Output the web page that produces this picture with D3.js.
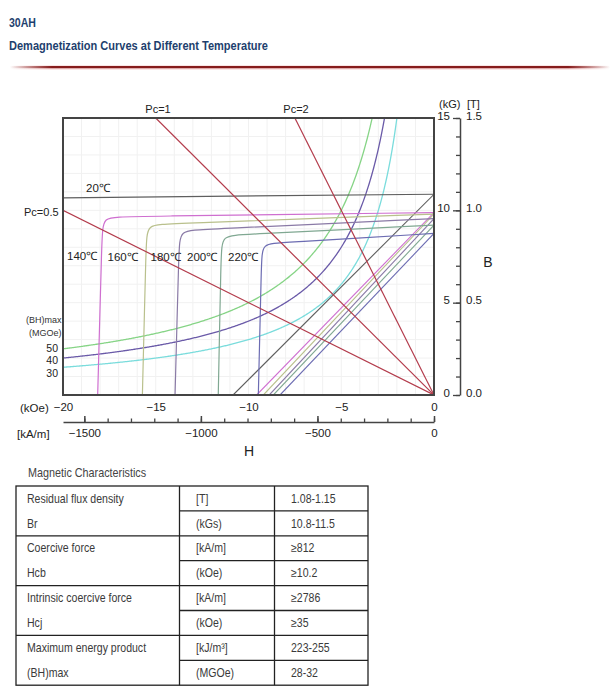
<!DOCTYPE html>
<html><head><meta charset="utf-8">
<script src="https://cdn.jsdelivr.net/npm/d3@7"></script>
<style>
html,body{margin:0;padding:0;background:#fff;}
svg{display:block;}
</style>
</head><body>
<script>
// ---------- DATA ----------
const titleMain = "30AH";
const titleSub = "Demagnetization Curves at Different Temperature";

const hTicksKOe = [-20, -15, -10, -5, 0];
const hTicksKAm = [-1500, -1000, -500, 0];
const hMinorKAm = [-1500,-1400,-1300,-1200,-1100,-1000,-900,-800,-700,-600,-500,-400,-300,-200,-100,0];
const bTicksKG = [0, 5, 10, 15];
const bTicksT = [0.0, 0.5, 1.0, 1.5];
const bMinorKG = [0,1,2,3,4,5,6,7,8,9,10,11,12,13,14,15];

const temps = ["20℃", "140℃", "160℃", "180℃", "200℃", "220℃"];
// intrinsic curves [H kOe, B kG]
const J20  = [[0, 10.87], [-20, 10.68]];
const J140 = [[0, 9.88], [-16.7, 9.66], [-17.85, 9.65], [-17.9, 8.6], [-18.13, 0]];
const J160 = [[0, 9.80], [-14.3, 9.26], [-15.47, 9.24], [-15.52, 8.2], [-15.72, 0]];
const J180 = [[0, 9.55], [-12.5, 8.96], [-13.70, 8.93], [-13.75, 7.9], [-13.96, 0]];
const J200 = [[0, 9.20], [-10.3, 8.68], [-11.43, 8.65], [-11.48, 7.6], [-11.63, 0]];
const J220 = [[0, 8.75], [-8.2, 8.24], [-9.27, 8.21], [-9.30, 7.2], [-9.47, 0]];
// normal (B) curves: remanence at H=0 and coercivity where B reaches 0
const remanence = [10.87, 9.88, 9.80, 9.55, 9.20, 8.75];
const coercivity = [-10.83, -9.56, -9.20, -8.88, -8.66, -8.30];
// energy product contours (MGOe) and permeance lines
const bhMax = [50, 40, 30];
const permeance = [0.5, 1, 2];

// table
const propNames = [["Residual flux density", "Br"], ["Coercive force", "Hcb"], ["Intrinsic coercive force", "Hcj"], ["Maximum energy product", "(BH)max"]];
const propUnits = [["[T]", "(kGs)"], ["[kA/m]", "(kOe)"], ["[kA/m]", "(kOe)"], ["[kJ/m³]", "(MGOe)"]];
const propValues = [["1.08-1.15", "10.8-11.5"], ["≥812", "≥10.2"], ["≥2786", "≥35"], ["223-255", "28-32"]];

// ---------- STYLE ----------
const tempColors = ["#5e5e5e", "#cf6fd0", "#b9c08c", "#8a7aa6", "#80a892", "#6c6cb2"];
const bhColors = ["#86d486", "#6a5aa8", "#7adcdc"];
const pcColor = "#b33c4c";
const FONT = "'Liberation Sans', Arial, sans-serif";

const W = 616, H = 696;
const svg = d3.select("body").append("svg").attr("width", W).attr("height", H)
  .style("font-family", FONT);

// title
svg.append("text").attr("x", 9).attr("y", 27).text(titleMain)
  .attr("font-family", FONT).attr("font-weight", "bold")
  .attr("font-size", 12.5).attr("fill", "#1e3f6e").attr("textLength", 27).attr("lengthAdjust", "spacingAndGlyphs");
svg.append("text").attr("x", 9).attr("y", 50).text(titleSub)
  .attr("font-family", FONT).attr("font-weight", "bold")
  .attr("font-size", 12.5).attr("fill", "#1e3f6e").attr("textLength", 259).attr("lengthAdjust", "spacingAndGlyphs");

const defs = svg.append("defs");
const grad = defs.append("linearGradient").attr("id", "rule");
[[0, 0], [0.07, 1], [0.93, 1], [1, 0]].forEach(([o, a]) =>
  grad.append("stop").attr("offset", o).attr("stop-color", "#861c1c").attr("stop-opacity", a));
const grad2 = defs.append("linearGradient").attr("id", "rule2");
[[0, 0], [0.07, 0.35], [0.93, 0.35], [1, 0]].forEach(([o, a]) =>
  grad2.append("stop").attr("offset", o).attr("stop-color", "#e07070").attr("stop-opacity", a));
svg.append("rect").attr("x", 10).attr("y", 65.5).attr("width", 600).attr("height", 4).attr("fill", "url(#rule2)");
svg.append("rect").attr("x", 10).attr("y", 66).attr("width", 600).attr("height", 2.2).attr("fill", "url(#rule)");

// ---------- CHART ----------
const x = d3.scaleLinear().domain([-20, 0]).range([63, 434]);
const y = d3.scaleLinear().domain([0, 15]).range([395, 118]);
const KAM = 79.577;
const xk = d3.scaleLinear().domain([-20 * KAM, 0]).range([63, 434]);
const yT = d3.scaleLinear().domain([0, 1.5]).range([395, 118]);

const clip = defs.append("clipPath").attr("id", "plot");
clip.append("rect").attr("x", x(-20)).attr("y", y(15)).attr("width", x(0) - x(-20)).attr("height", y(0) - y(15));

// grid
const grid = svg.append("g").attr("stroke", "#f1f1f1").attr("stroke-width", 1);
grid.selectAll(".gv").data(d3.range(-19, 0)).join("line")
  .attr("x1", d => x(d)).attr("x2", d => x(d)).attr("y1", y(15)).attr("y2", y(0));
grid.selectAll(".gh").data(d3.range(1, 15)).join("line")
  .attr("x1", x(-20)).attr("x2", x(0)).attr("y1", d => y(d)).attr("y2", d => y(d));

const plot = svg.append("g").attr("clip-path", "url(#plot)");
const line = d3.line().x(d => x(d[0])).y(d => y(d[1]));
const smooth = d3.line().x(d => x(d[0])).y(d => y(d[1])).curve(d3.curveBasis);

// energy product hyperbolas
bhMax.forEach((v, i) => {
  const hs = d3.range(-20, -v / 15.5, 0.05);
  plot.append("path").datum(hs.map(h => [h, v / -h]))
    .attr("d", line).attr("fill", "none").attr("stroke", bhColors[i]).attr("stroke-width", 1.3);
});

// normal curves
temps.forEach((t, i) => {
  plot.append("path").datum([[0, remanence[i]], [coercivity[i], 0]])
    .attr("d", line).attr("fill", "none").attr("stroke", tempColors[i]).attr("stroke-width", 1.1);
});

// intrinsic curves
[J20, J140, J160, J180, J200, J220].forEach((pts, i) => {
  plot.append("path").datum(pts).attr("d", i === 0 ? line : smooth)
    .attr("fill", "none").attr("stroke", tempColors[i]).attr("stroke-width", 1.2);
});

// permeance lines
permeance.forEach(pc => {
  const hEnd = Math.max(-20, -15 / pc);
  plot.append("path").datum([[0, 0], [hEnd, -pc * hEnd]])
    .attr("d", line).attr("fill", "none").attr("stroke", pcColor).attr("stroke-width", 1.2);
});

// frame
svg.append("rect").attr("x", x(-20)).attr("y", y(15)).attr("width", x(0) - x(-20)).attr("height", y(0) - y(15))
  .attr("fill", "none").attr("stroke", "#444").attr("stroke-width", 2);

// bottom kOe labels
const axK = svg.append("g").attr("transform", `translate(0,${y(0)})`)
  .call(d3.axisBottom(x).tickValues(hTicksKOe).tickSize(0).tickPadding(8).tickFormat(d3.format("d")));
axK.select(".domain").remove();
axK.selectAll("text").attr("font-size", 11.5).attr("fill", "#222").attr("font-family", FONT);

// kA/m axis
const yKA = 422;
const axM = svg.append("g").attr("transform", `translate(0,${yKA})`)
  .call(d3.axisBottom(xk).tickValues(hMinorKAm).tickSize(-3.5).tickSizeOuter(0).tickFormat(""));
axM.select(".domain").attr("stroke", "#444").attr("stroke-width", 1.5);
axM.selectAll("line").attr("stroke", "#444").attr("stroke-width", 1.3);
const axM2 = svg.append("g").attr("transform", `translate(0,${yKA})`)
  .call(d3.axisBottom(xk).tickValues(hTicksKAm).tickSize(-6).tickSizeOuter(0).tickPadding(7).tickFormat(d3.format("d")));
axM2.select(".domain").remove();
axM2.selectAll("line").attr("stroke", "#444").attr("stroke-width", 1.5);
axM2.selectAll("text").attr("font-size", 11.5).attr("fill", "#222").attr("font-family", FONT);

// right B axis
const xR = 460;
const axR1 = svg.append("g").attr("transform", `translate(${xR},0)`)
  .call(d3.axisLeft(y).tickValues(bMinorKG).tickSize(4).tickSizeOuter(0).tickFormat(""));
axR1.select(".domain").attr("stroke", "#444").attr("stroke-width", 1.5);
axR1.selectAll("line").attr("stroke", "#444").attr("stroke-width", 1.3);
const axR2 = svg.append("g").attr("transform", `translate(${xR},0)`)
  .call(d3.axisLeft(y).tickValues(bTicksKG).tickSize(7).tickPadding(3).tickFormat(d3.format("d")));
axR2.select(".domain").remove();
axR2.selectAll("line").attr("stroke", "#444").attr("stroke-width", 1.3);
axR2.selectAll("text").attr("font-size", 11.5).attr("fill", "#222").attr("font-family", FONT).attr("dy", "0.1em");
const axR3 = svg.append("g").attr("transform", `translate(${xR},0)`)
  .call(d3.axisRight(yT).tickValues(bTicksT).tickSize(0).tickPadding(6).tickFormat(d3.format(".1f")));
axR3.select(".domain").remove();
axR3.selectAll("text").attr("font-size", 11.5).attr("fill", "#222").attr("font-family", FONT).attr("dy", "0.1em");

// labels
function label(txt, xx, yy, opts = {}) {
  return svg.append("text").attr("x", xx).attr("y", yy).text(txt)
    .attr("font-size", opts.size || 11).attr("fill", opts.fill || "#222")
    .attr("text-anchor", opts.anchor || "start").attr("dominant-baseline", "central");
}
label("(kG)", 439, 104, {size: 11});
label("[T]", 467, 104, {size: 11});
label("B", 488, 262, {size: 14, anchor: "middle"});
label("H", 249, 451, {size: 14, anchor: "middle"});
label("(kOe)", 20, 407.5, {size: 11.5});
label("[kA/m]", 17, 434, {size: 11.5});
label("Pc=1", 158, 109, {size: 11, anchor: "middle"});
label("Pc=2", 296, 109, {size: 11, anchor: "middle"});
label("Pc=0.5", 24, 212, {size: 11});
label("(BH)max", 26, 319.5, {size: 9, fill: "#333"});
label("(MGOe)", 29, 333, {size: 9, fill: "#333"});
bhMax.forEach((v, i) => label(String(v), 58, 348 + i * 12.4, {size: 10.5, anchor: "end"}));
const tempLabelPos = [[86, 188], [67, 256], [107.5, 256.5], [150.5, 256.5], [187, 256.5], [228, 256.5]];
temps.forEach((t, i) => label(t, tempLabelPos[i][0], tempLabelPos[i][1], {size: 11.5}));

// ---------- TABLE ----------
label("Magnetic Characteristics", 28, 473, {size: 12, fill: "#444"}).attr("transform", "translate(2.8,0) scale(0.9,1)");
const tL = 16, tR = 368, tTop = 486, rowH = 24.9;
const c1 = 179.5, c2 = 274.5;
const tbl = svg.append("g").attr("stroke", "#222").attr("stroke-width", 1.3);
const nRows = propNames.length * 2;
const tBot = tTop + nRows * rowH;
tbl.append("rect").attr("x", tL).attr("y", tTop).attr("width", tR - tL).attr("height", tBot - tTop).attr("fill", "none");
[c1, c2].forEach(cx => tbl.append("line").attr("x1", cx).attr("x2", cx).attr("y1", tTop).attr("y2", tBot));
d3.range(1, nRows).forEach(r => {
  tbl.append("line").attr("x1", r % 2 === 0 ? tL : c1).attr("x2", tR)
    .attr("y1", tTop + r * rowH).attr("y2", tTop + r * rowH);
});
function cell(txt, xx, yy) {
  svg.append("text").attr("transform", `translate(${xx},${yy}) scale(0.88,1)`).text(txt)
    .attr("font-size", 12).attr("fill", "#3a3a3a").attr("dominant-baseline", "central");
}
propNames.forEach((pair, g) => {
  pair.forEach((nm, k) => {
    const yy = tTop + (g * 2 + k) * rowH + rowH / 2;
    cell(nm, 27, yy);
    cell(propUnits[g][k], 196, yy);
    cell(propValues[g][k], 291, yy);
  });
});
</script>
</body></html>
